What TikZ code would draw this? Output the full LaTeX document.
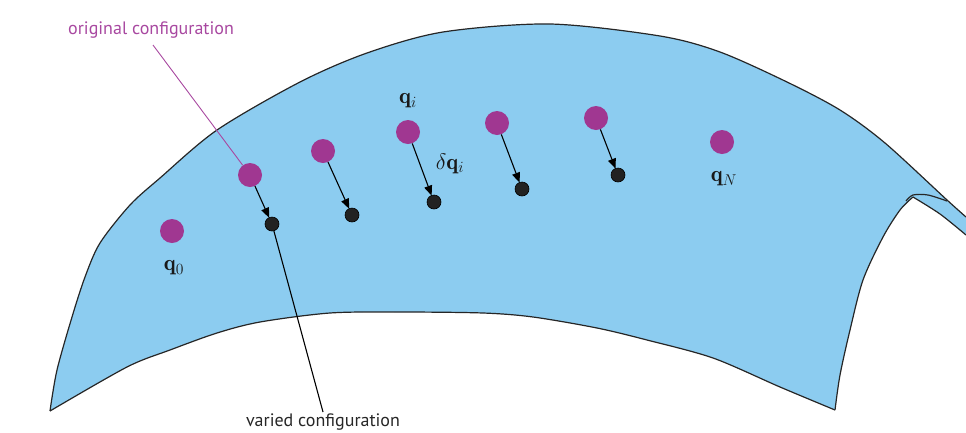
\documentclass[tikz,border=0pt]{standalone}
\usepackage{fontspec}
\setsansfont{PT Sans}
\usetikzlibrary{arrows.meta}
\definecolor{sheet}{RGB}{140,204,240}
\definecolor{mag}{RGB}{160,55,145}
\definecolor{maglab}{RGB}{168,72,160}
\definecolor{dotc}{RGB}{34,34,34}
\tikzset{
  orig/.style={circle,fill=mag,inner sep=0pt,minimum size=24pt},
  vary/.style={circle,fill=dotc,draw=black,line width=0.6pt,inner sep=0pt,minimum size=14pt},
  shiftarrow/.style={line width=1.1pt,-{Triangle[length=10pt,width=8pt]},shorten >=-0.5pt},
  rim/.style={line width=1.2pt,draw=black!85},
  lab/.style={font=\LARGE,scale=1.3,text=black!90},
  note/.style={font=\sffamily\fontsize{18}{21}\selectfont}
}
\begin{document}
\begin{tikzpicture}[x=1pt,y=-1pt]
\useasboundingbox (0,0) rectangle (966,432);
\def\topedge{(50,411) (57,370) (72,317) (85,277) (100,243) (130,205) (160,178) (217,130) (300,82) (367,53) (443,32) (550,24) (660,36) (720,52) (787,82) (840,110) (885,143) (947,200) (966,217)}
\def\flapedge{(966,235) (940,214) (913,197)}
\def\rightedge{(913,197) (900,210) (883,237) (863,280) (850,330) (840,375) (835,410)}
\def\bottomedge{(835,410) (780,387) (713,358) (647,340) (597,328) (533,317) (483,313) (400,312) (330,313) (260,322) (217,333) (170,350) (127,367) (50,411)}
% sheet fill
\fill[sheet] plot[smooth,tension=0.5] coordinates {\topedge}
  -- (966,235)
  -- plot[smooth,tension=0.5] coordinates {\flapedge}
  -- plot[smooth,tension=0.5] coordinates {\rightedge}
  -- plot[smooth,tension=0.5] coordinates {\bottomedge}
  -- cycle;
% sheet outline
\draw[rim] plot[smooth,tension=0.5] coordinates {\topedge};
\draw[rim] plot[smooth,tension=0.5] coordinates {\flapedge};
\draw[rim] plot[smooth,tension=0.5] coordinates {(947,201) (928,195) (913,195) (906,201)};
\draw[rim] plot[smooth,tension=0.5] coordinates {\rightedge};
\draw[rim] plot[smooth,tension=0.5] coordinates {\bottomedge};
% original configuration
\node[orig] (m0) at (172,231) {};
\node[orig] (m1) at (250,175) {};
\node[orig] (m2) at (323,151) {};
\node[orig] (m3) at (408,132) {};
\node[orig] (m4) at (497,123) {};
\node[orig] (m5) at (596,118) {};
\node[orig] (m6) at (722,142) {};
% varied configuration
\node[vary] (b1) at (272,224) {};
\node[vary] (b2) at (352,215) {};
\node[vary] (b3) at (434,202) {};
\node[vary] (b4) at (522,189) {};
\node[vary] (b5) at (618,175) {};
\foreach \i in {1,2,3,4,5} \draw[shiftarrow] (m\i) -- (b\i);
% labels
\node[lab] (l0) at (174,268) {$\mathbf{q}_0$};
\node[lab] (li) at (408,101) {$\mathbf{q}_i$};
\node[lab] (ld) at (450,164) {$\delta\mathbf{q}_i$};
\node[lab] (lN) at (724,179) {$\mathbf{q}_N$};
% notes
\node[note,text=maglab] (t1) at (151,30) {original configuration};
\coordinate (t1a) at (153,45);
\draw[maglab,line width=0.9pt] (t1a) -- (m1);
\node[note,text=black!85] (t2) at (323,422) {varied configuration};
\coordinate (t2a) at (323,412);
\draw[black,line width=1.1pt] (b1) -- (t2a);
\end{tikzpicture}
\end{document}
